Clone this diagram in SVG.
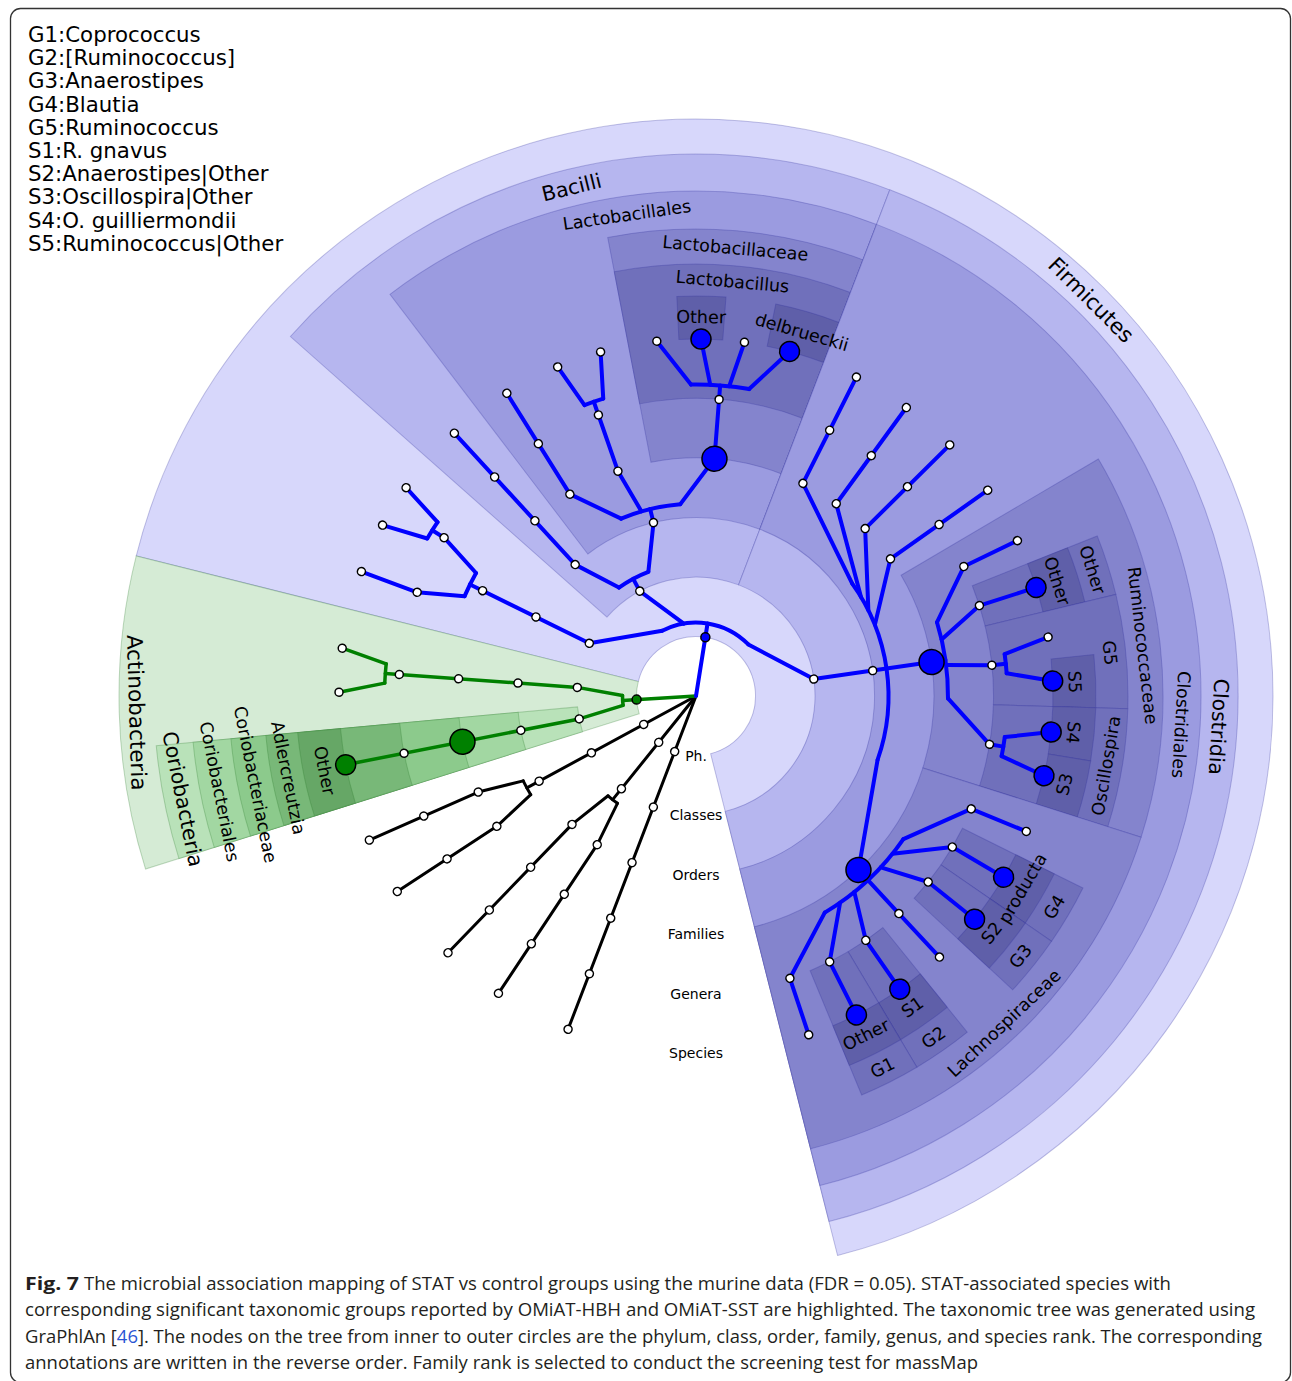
<svg xmlns="http://www.w3.org/2000/svg" width="1292" height="1381" viewBox="0 0 1292 1381">
<style>
.wb1{fill:#d7d7fb}.wb2{fill:#b6b6ef}.wb3{fill:#9b9be0}.wb4{fill:#8484cd}.wb5{fill:#7070bb}.wb6{fill:#5f5fa9}
.wg1{fill:#d5ebd5}.wg2{fill:#b9e2b9}.wg3{fill:#a2d7a2}.wg4{fill:#8cca8c}.wg5{fill:#78b878}.wg6{fill:#66a766}
.w{stroke:#30309a;stroke-opacity:.28;stroke-width:1}
.wg{stroke:#2a7a2a;stroke-opacity:.28;stroke-width:1}
.eb{fill:none;stroke:#0000ff;stroke-width:4;stroke-linecap:round;stroke-linejoin:round}
.eg{fill:none;stroke:#008000;stroke-width:3.5;stroke-linecap:round;stroke-linejoin:round}
.ek{fill:none;stroke:#000;stroke-width:3;stroke-linecap:round;stroke-linejoin:round}
.n{fill:#fff;stroke:#000;stroke-width:1.5}
.nb{fill:#0000ff;stroke:#000;stroke-width:1.5}
.ng{fill:#008000;stroke:#000;stroke-width:1.5}
.t{font-family:"DejaVu Sans",sans-serif;fill:#000;text-anchor:middle;dominant-baseline:central}
.t1{font-size:21.5px}.t2{font-size:20.5px}.t3{font-size:17.5px}.t4{font-size:14px}
.leg{font-family:"DejaVu Sans",sans-serif;font-size:21.3px;fill:#000}
.cap{font-family:"Open Sans","Noto Sans",sans-serif;font-size:18px;fill:#231f20}
</style>
<rect x="10.5" y="8.5" width="1280" height="1374" rx="10" fill="none" stroke="#333" stroke-width="1.3"/>
<g id="wedges" transform="translate(696,696)">
<path id="w-Firmicutes" class="wb1 w" transform="rotate(194.05)" d="M59.5,0L577,0A577,577 0 1,1 -273.1,-508.3L-28.16,-52.41A59.5,59.5 0 1,0 59.5,0Z"/>
<path id="w-Actinobacteria" class="wg1 wg" transform="rotate(162.55)" d="M59.5,0L577,0A577,577 0 0,1 492,301.5L50.73,31.09A59.5,59.5 0 0,0 59.5,0Z"/>
<path id="w-Coriobacteria" class="wg2 wg" transform="rotate(162.55)" d="M119,0L542,0A542,542 0 0,1 529.8,114.5L116.3,25.15A119,119 0 0,0 119,0Z"/>
<path id="w-Coriobacteriales" class="wg3 wg" transform="rotate(162.55)" d="M178.5,0L505,0A505,505 0 0,1 493.6,106.7L174.5,37.72A178.5,178.5 0 0,0 178.5,0Z"/>
<path id="w-Coriobacteriaceae" class="wg4 wg" transform="rotate(162.55)" d="M238,0L467,0A467,467 0 0,1 456.5,98.69L232.6,50.29A238,238 0 0,0 238,0Z"/>
<path id="w-Adlercreutzia" class="wg5 wg" transform="rotate(162.55)" d="M297.5,0L432,0A432,432 0 0,1 422.2,91.29L290.8,62.87A297.5,297.5 0 0,0 297.5,0Z"/>
<path id="w-Adler-Other" class="wg6 wg" transform="rotate(162.55)" d="M357,0L400,0A400,400 0 0,1 391,84.53L348.9,75.44A357,357 0 0,0 357,0Z"/>
<path id="w-Bacilli" class="wb2 w" transform="rotate(221.55)" d="M119,0L542,0A542,542 0 0,1 190.7,507.3L41.87,111.39A119,119 0 0,0 119,0Z"/>
<path id="w-Lactobacillales" class="wb3 w" transform="rotate(232.7)" d="M178.5,0L505,0A505,505 0 0,1 265.7,429.4L93.93,151.79A178.5,178.5 0 0,0 178.5,0Z"/>
<path id="w-Lactobacillaceae" class="wb4 w" transform="rotate(259.1)" d="M238,0L467,0A467,467 0 0,1 396.7,246.4L202.2,125.6A238,238 0 0,0 238,0Z"/>
<path id="w-Lactobacillus" class="wb5 w" transform="rotate(259.1)" d="M297.5,0L432,0A432,432 0 0,1 366.95,227.97L252.7,157A297.5,297.5 0 0,0 297.5,0Z"/>
<path id="w-Lb-Other" class="wb6 w" transform="rotate(267.25)" d="M357,0L400,0A400,400 0 0,1 397,49.1L354.3,43.82A357,357 0 0,0 357,0Z"/>
<path id="w-delbrueckii" class="wb6 w" transform="rotate(281.5)" d="M357,0L400,0A400,400 0 0,1 394.6,65.68L352.2,58.62A357,357 0 0,0 357,0Z"/>
<path id="w-Clostridia" class="wb2 w" transform="rotate(290.95)" d="M119,0L542,0A542,542 0 0,1 -443.2,312.1L-97.3,68.52A119,119 0 0,0 119,0Z"/>
<path id="w-Clostridiales" class="wb3 w" transform="rotate(290.95)" d="M178.5,0L505,0A505,505 0 0,1 -412.9,290.8L-145.95,102.8A178.5,178.5 0 0,0 178.5,0Z"/>
<path id="w-Ruminococcaceae" class="wb4 w" transform="rotate(329.5)" d="M238,0L467,0A467,467 0 0,1 311.9,347.6L158.9,177.1A238,238 0 0,0 238,0Z"/>
<path id="w-Rum-Other-g" class="wb5 w" transform="rotate(338.25)" d="M297.5,0L432,0A432,432 0 0,1 427.6,61.24L294.5,42.17A297.5,297.5 0 0,0 297.5,0Z"/>
<path id="w-Rum-Other-s" class="wb6 w" transform="rotate(338.25)" d="M357,0L400,0A400,400 0 0,1 396,56.7L353.4,50.6A357,357 0 0,0 357,0Z"/>
<path id="w-G5" class="wb5 w" transform="rotate(346.4)" d="M297.5,0L432,0A432,432 0 0,1 416.7,114L287,78.5A297.5,297.5 0 0,0 297.5,0Z"/>
<path id="w-S5" class="wb6 w" transform="rotate(354.05)" d="M357,0L400,0A400,400 0 0,1 396.4,53.25L353.8,47.52A357,357 0 0,0 357,0Z"/>
<path id="w-Oscillospira" class="wb5 w" transform="rotate(1.7)" d="M297.5,0L432,0A432,432 0 0,1 415.5,118.35L286.1,81.5A297.5,297.5 0 0,0 297.5,0Z"/>
<path id="w-S4" class="wb6 w" transform="rotate(1.7)" d="M357,0L400,0A400,400 0 0,1 396.4,53.25L353.8,47.52A357,357 0 0,0 357,0Z"/>
<path id="w-S3" class="wb6 w" transform="rotate(9.35)" d="M357,0L400,0A400,400 0 0,1 395.9,57.4L353.3,51.23A357,357 0 0,0 357,0Z"/>
<path id="w-Lachnospiraceae" class="wb4 w" transform="rotate(17.6)" d="M238,0L467,0A467,467 0 0,1 246.1,396.9L125.4,202.3A238,238 0 0,0 238,0Z"/>
<path id="w-G4" class="wb5 w" transform="rotate(26.4)" d="M297.5,0L432,0A432,432 0 0,1 427.6,61.62L294.5,42.43A297.5,297.5 0 0,0 297.5,0Z"/>
<path id="w-producta" class="wb6 w" transform="rotate(26.4)" d="M357,0L400,0A400,400 0 0,1 395.9,57.05L353.4,50.92A357,357 0 0,0 357,0Z"/>
<path id="w-G3" class="wb5 w" transform="rotate(34.6)" d="M297.5,0L432,0A432,432 0 0,1 427.5,61.99L294.4,42.69A297.5,297.5 0 0,0 297.5,0Z"/>
<path id="w-S2" class="wb6 w" transform="rotate(34.6)" d="M357,0L400,0A400,400 0 0,1 395.9,57.4L353.3,51.23A357,357 0 0,0 357,0Z"/>
<path id="w-G2" class="wb5 w" transform="rotate(51.1)" d="M297.5,0L432,0A432,432 0 0,1 427.6,61.24L294.5,42.17A297.5,297.5 0 0,0 297.5,0Z"/>
<path id="w-S1" class="wb6 w" transform="rotate(51.1)" d="M357,0L400,0A400,400 0 0,1 396,56.7L353.4,50.6A357,357 0 0,0 357,0Z"/>
<path id="w-G1" class="wb5 w" transform="rotate(59.25)" d="M297.5,0L432,0A432,432 0 0,1 427.6,61.62L294.5,42.43A297.5,297.5 0 0,0 297.5,0Z"/>
<path id="w-G1-Other" class="wb6 w" transform="rotate(59.25)" d="M357,0L400,0A400,400 0 0,1 395.9,57.05L353.4,50.92A357,357 0 0,0 357,0Z"/>
</g>
<g id="connectors" transform="translate(696,696)">
<g class="ek">
<line x2="357" transform="rotate(111)"/>
<line x2="133" transform="rotate(128.8)"/>
<path d="M133,0A133,133 0 0,1 132.45,12.05" transform="rotate(126.2)"/>
<path d="M133,0L178.3,8.1" transform="rotate(131.4)"/>
<path d="M133,0L178.3,-8.1" transform="rotate(126.2)"/>
<line x1="178.5" x2="357" transform="rotate(134)"/>
<line x1="178.5" x2="357" transform="rotate(123.6)"/>
<line x2="192.5" transform="rotate(151.5)"/>
<path d="M192.5,0A192.5,192.5 0 0,1 191.85,15.77" transform="rotate(149.15)"/>
<path d="M192.5,0L237.8,9.76" transform="rotate(153.85)"/>
<path d="M192.5,0L237.8,-9.76" transform="rotate(149.15)"/>
<line x1="238" x2="357" transform="rotate(156.2)"/>
<line x1="238" x2="357" transform="rotate(146.8)"/>
</g>
<g class="eg">
<line x2="73.5" transform="rotate(176.525)"/>
<path d="M73.5,0A73.5,73.5 0 0,1 72.85,9.76" transform="rotate(172.71)"/>
<path d="M73.5,0L118.74,7.91" transform="rotate(180.34)"/>
<path d="M73.5,0L118.74,-7.91" transform="rotate(172.71)"/>
<line x1="119" x2="311.5" transform="rotate(184.15)"/>
<path d="M311.5,0A311.5,311.5 0 0,1 310.9,19.29" transform="rotate(182.375)"/>
<path d="M311.5,0L356.83,11.06" transform="rotate(185.925)"/>
<path d="M311.5,0L356.83,-11.06" transform="rotate(182.375)"/>
<line x1="119" x2="357" transform="rotate(168.9)"/>
</g>
<g class="eb">
<line x2="73.5" transform="rotate(279.05)"/>
<path d="M73.5,0A73.5,73.5 0 0,1 21.76,70.2" transform="rotate(242.66)"/>
<path d="M73.5,0L95.8,-70.59" transform="rotate(242.66)"/>
<path d="M73.5,0L112.77,-38" transform="rotate(260.43)"/>
<path d="M73.5,0L95.8,70.59" transform="rotate(315.44)"/>
<line x1="119" x2="252" transform="rotate(206.275)"/>
<path d="M252,0A252,252 0 0,1 250.68,25.79" transform="rotate(203.34)"/>
<path d="M252,0L297.11,15.25" transform="rotate(209.21)"/>
<path d="M252,0L297.11,-15.25" transform="rotate(203.34)"/>
<line x1="297.5" x2="357" transform="rotate(200.4)"/>
<line x1="297.5" x2="311.5" transform="rotate(212.15)"/>
<path d="M311.5,0A311.5,311.5 0 0,1 310.9,19.29" transform="rotate(210.375)"/>
<path d="M311.5,0L356.83,11.06" transform="rotate(213.925)"/>
<path d="M311.5,0L356.83,-11.06" transform="rotate(210.375)"/>
<line x1="119" x2="133" transform="rotate(241.81)"/>
<path d="M133,0A133,133 0 0,1 128.82,33.1" transform="rotate(234.6)"/>
<path d="M133,0L177.09,22.4" transform="rotate(249.02)"/>
<path d="M133,0L177.09,-22.39" transform="rotate(234.6)"/>
<line x1="178.5" x2="357" transform="rotate(227.4)"/>
<line x1="178.5" x2="192.5" transform="rotate(256.225)"/>
<path d="M192.5,0A192.5,192.5 0 0,1 182.84,60.2" transform="rotate(247.11)"/>
<path d="M192.5,0L235,-37.69" transform="rotate(247.11)"/>
<path d="M192.5,0L237.74,-11.16" transform="rotate(253.54)"/>
<path d="M192.5,0L235,37.69" transform="rotate(265.34)"/>
<line x1="238" x2="357" transform="rotate(238)"/>
<line x1="238" x2="311.5" transform="rotate(250.85)"/>
<path d="M311.5,0A311.5,311.5 0 0,1 310.87,19.83" transform="rotate(249.025)"/>
<path d="M311.5,0L356.82,11.37" transform="rotate(252.675)"/>
<path d="M311.5,0L356.82,-11.37" transform="rotate(249.025)"/>
<line x1="238" x2="311.5" transform="rotate(274.45)"/>
<path d="M311.5,0A311.5,311.5 0 0,1 306.03,58.1" transform="rotate(269.075)"/>
<path d="M311.5,0L355.43,-33.44" transform="rotate(269.075)"/>
<path d="M311.5,0L356.82,-11.37" transform="rotate(272.625)"/>
<path d="M311.5,0L356.85,10.43" transform="rotate(276.125)"/>
<path d="M311.5,0L355.43,33.44" transform="rotate(279.825)"/>
<line x1="119" x2="252" transform="rotate(351.8)"/>
<path d="M192.5,0A192.5,192.5 0 0,1 110.05,157.95" transform="rotate(324.26)"/>
<path d="M192.5,0L211,-110.1" transform="rotate(324.26)"/>
<path d="M192.5,0L219.3,-92.48" transform="rotate(328.96)"/>
<path d="M192.5,0L226,-74.58" transform="rotate(333.56)"/>
<path d="M192.5,0L231.4,-55.61" transform="rotate(338.31)"/>
<path d="M192.5,0L211,110.1" transform="rotate(19.39)"/>
<line x1="238" x2="357" transform="rotate(296.7)"/>
<line x1="238" x2="357" transform="rotate(306.1)"/>
<line x1="238" x2="357" transform="rotate(315.3)"/>
<line x1="238" x2="357" transform="rotate(324.8)"/>
<path d="M252,0A252,252 0 0,1 240.24,76.09" transform="rotate(342.99)"/>
<path d="M252,0L294,-45.45" transform="rotate(342.99)"/>
<path d="M252,0L296.5,-24.57" transform="rotate(347.04)"/>
<path d="M252,0L297.44,5.91" transform="rotate(352.91)"/>
<path d="M252,0L294,45.45" transform="rotate(0.56)"/>
<line x1="297.5" x2="357" transform="rotate(334.2)"/>
<line x1="297.5" x2="357" transform="rotate(342.3)"/>
<line x1="297.5" x2="311.5" transform="rotate(354.05)"/>
<path d="M311.5,0A311.5,311.5 0 0,1 310.9,19.29" transform="rotate(352.275)"/>
<path d="M311.5,0L356.83,-11.06" transform="rotate(352.275)"/>
<path d="M311.5,0L356.83,11.06" transform="rotate(355.825)"/>
<line x1="297.5" x2="311.5" transform="rotate(9.35)"/>
<path d="M311.5,0A311.5,311.5 0 0,1 310.9,19.29" transform="rotate(7.575)"/>
<path d="M311.5,0L356.83,-11.06" transform="rotate(7.575)"/>
<path d="M311.5,0L356.83,11.06" transform="rotate(11.125)"/>
<line x1="238" x2="252" transform="rotate(46.95)"/>
<path d="M252,0A252,252 0 0,1 229.04,105.1" transform="rotate(34.625)"/>
<path d="M252,0L290.64,-63.5" transform="rotate(34.625)"/>
<path d="M252,0L294.44,-42.56" transform="rotate(38.725)"/>
<path d="M252,0L296.73,-21.4" transform="rotate(42.825)"/>
<path d="M252,0L297.5,0.13" transform="rotate(46.975)"/>
<path d="M252,0L296.73,21.4" transform="rotate(51.075)"/>
<path d="M252,0L294.48,42.3" transform="rotate(55.125)"/>
<path d="M252,0L290.64,63.5" transform="rotate(59.275)"/>
<line x1="297.5" x2="357" transform="rotate(22.3)"/>
<line x1="297.5" x2="357" transform="rotate(30.5)"/>
<line x1="297.5" x2="357" transform="rotate(38.7)"/>
<line x1="297.5" x2="357" transform="rotate(47)"/>
<line x1="297.5" x2="357" transform="rotate(55.2)"/>
<line x1="297.5" x2="357" transform="rotate(63.3)"/>
<line x1="297.5" x2="357" transform="rotate(71.6)"/>
</g>
</g>
<g id="nodes" transform="translate(696,696)">
<g id="k3-p"><circle class="n" cx="59.5" r="4" transform="rotate(111)"/></g>
<g id="k3-c"><circle class="n" cx="119" r="4" transform="rotate(111)"/></g>
<g id="k3-o"><circle class="n" cx="178.5" r="4" transform="rotate(111)"/></g>
<g id="k3-f"><circle class="n" cx="238" r="4" transform="rotate(111)"/></g>
<g id="k3-g"><circle class="n" cx="297.5" r="4" transform="rotate(111)"/></g>
<g id="k3-s"><circle class="n" cx="357" r="4" transform="rotate(111)"/></g>
<g id="k2-p"><circle class="n" cx="59.5" r="4" transform="rotate(128.8)"/></g>
<g id="k2-c"><circle class="n" cx="119" r="4" transform="rotate(128.8)"/></g>
<g id="k2a-o"><circle class="n" cx="178.5" r="4" transform="rotate(134)"/></g>
<g id="k2a-f"><circle class="n" cx="238" r="4" transform="rotate(134)"/></g>
<g id="k2a-g"><circle class="n" cx="297.5" r="4" transform="rotate(134)"/></g>
<g id="k2a-s"><circle class="n" cx="357" r="4" transform="rotate(134)"/></g>
<g id="k2b-o"><circle class="n" cx="178.5" r="4" transform="rotate(123.6)"/></g>
<g id="k2b-f"><circle class="n" cx="238" r="4" transform="rotate(123.6)"/></g>
<g id="k2b-g"><circle class="n" cx="297.5" r="4" transform="rotate(123.6)"/></g>
<g id="k2b-s"><circle class="n" cx="357" r="4" transform="rotate(123.6)"/></g>
<g id="k1-p"><circle class="n" cx="59.5" r="4" transform="rotate(151.5)"/></g>
<g id="k1-c"><circle class="n" cx="119" r="4" transform="rotate(151.5)"/></g>
<g id="k1-o"><circle class="n" cx="178.5" r="4" transform="rotate(151.5)"/></g>
<g id="k1a-f"><circle class="n" cx="238" r="4" transform="rotate(156.2)"/></g>
<g id="k1a-g"><circle class="n" cx="297.5" r="4" transform="rotate(156.2)"/></g>
<g id="k1a-s"><circle class="n" cx="357" r="4" transform="rotate(156.2)"/></g>
<g id="k1b-f"><circle class="n" cx="238" r="4" transform="rotate(146.8)"/></g>
<g id="k1b-g"><circle class="n" cx="297.5" r="4" transform="rotate(146.8)"/></g>
<g id="k1b-s"><circle class="n" cx="357" r="4" transform="rotate(146.8)"/></g>
<g id="Actinobacteria-node"><circle class="ng" cx="59.5" r="4.5" transform="rotate(176.525)"/></g>
<g id="gu-c"><circle class="n" cx="119" r="4" transform="rotate(184.15)"/></g>
<g id="gu-o"><circle class="n" cx="178.5" r="4" transform="rotate(184.15)"/></g>
<g id="gu-f"><circle class="n" cx="238" r="4" transform="rotate(184.15)"/></g>
<g id="gu-g"><circle class="n" cx="297.5" r="4" transform="rotate(184.15)"/></g>
<g id="gu-s1"><circle class="n" cx="357" r="4" transform="rotate(187.7)"/></g>
<g id="gu-s2"><circle class="n" cx="357" r="4" transform="rotate(180.6)"/></g>
<g id="Coriobacteria-node"><circle class="n" cx="119" r="4" transform="rotate(168.9)"/></g>
<g id="Coriobacteriales-node"><circle class="n" cx="178.5" r="4" transform="rotate(168.9)"/></g>
<g id="Coriobacteriaceae-node"><circle class="ng" cx="238" r="12.5" transform="rotate(168.9)"/></g>
<g id="Adlercreutzia-node"><circle class="n" cx="297.5" r="4" transform="rotate(168.9)"/></g>
<g id="Adlercreutzia-Other-node"><circle class="ng" cx="357" r="10" transform="rotate(168.9)"/></g>
<g id="Firmicutes-node"><circle class="nb" cx="59.5" r="4.5" transform="rotate(279.05)"/></g>
<g id="e-c"><circle class="n" cx="119" r="4" transform="rotate(206.275)"/></g>
<g id="e-o"><circle class="n" cx="178.5" r="4" transform="rotate(206.275)"/></g>
<g id="e-f"><circle class="n" cx="238" r="4" transform="rotate(206.275)"/></g>
<g id="e-g1"><circle class="n" cx="297.5" r="4" transform="rotate(212.15)"/></g>
<g id="e-g2"><circle class="n" cx="297.5" r="4" transform="rotate(200.4)"/></g>
<g id="e-s3"><circle class="n" cx="357" r="4" transform="rotate(200.4)"/></g>
<g id="e-s1"><circle class="n" cx="357" r="4" transform="rotate(215.7)"/></g>
<g id="e-s2"><circle class="n" cx="357" r="4" transform="rotate(208.6)"/></g>
<g id="Bacilli-node"><circle class="n" cx="119" r="4" transform="rotate(241.81)"/></g>
<g id="b2-o"><circle class="n" cx="178.5" r="4" transform="rotate(227.4)"/></g>
<g id="b2-f"><circle class="n" cx="238" r="4" transform="rotate(227.4)"/></g>
<g id="b2-g"><circle class="n" cx="297.5" r="4" transform="rotate(227.4)"/></g>
<g id="b2-s"><circle class="n" cx="357" r="4" transform="rotate(227.4)"/></g>
<g id="Lactobacillales-node"><circle class="n" cx="178.5" r="4" transform="rotate(256.225)"/></g>
<g id="b3-f"><circle class="n" cx="238" r="4" transform="rotate(238)"/></g>
<g id="b3-g"><circle class="n" cx="297.5" r="4" transform="rotate(238)"/></g>
<g id="b3-s"><circle class="n" cx="357" r="4" transform="rotate(238)"/></g>
<g id="b4-f"><circle class="n" cx="238" r="4" transform="rotate(250.85)"/></g>
<g id="b4-g"><circle class="n" cx="297.5" r="4" transform="rotate(250.85)"/></g>
<g id="b4-s1"><circle class="n" cx="357" r="4" transform="rotate(247.2)"/></g>
<g id="b4-s2"><circle class="n" cx="357" r="4" transform="rotate(254.5)"/></g>
<g id="Lactobacillaceae-node"><circle class="nb" cx="238" r="12.5" transform="rotate(274.45)"/></g>
<g id="Lactobacillus-node"><circle class="n" cx="297.5" r="4" transform="rotate(274.45)"/></g>
<g id="lb-s1"><circle class="n" cx="357" r="4" transform="rotate(263.7)"/></g>
<g id="Lactobacillus-Other-node"><circle class="nb" cx="357" r="10" transform="rotate(270.8)"/></g>
<g id="lb-s3"><circle class="n" cx="357" r="4" transform="rotate(277.8)"/></g>
<g id="delbrueckii-node"><circle class="nb" cx="357" r="10" transform="rotate(285.2)"/></g>
<g id="Clostridia-node"><circle class="n" cx="119" r="4" transform="rotate(351.825)"/></g>
<g id="Clostridiales-node"><circle class="n" cx="178.5" r="4" transform="rotate(351.825)"/></g>
<g id="cf1-f"><circle class="n" cx="238" r="4" transform="rotate(296.7)"/></g>
<g id="cf1-g"><circle class="n" cx="297.5" r="4" transform="rotate(296.7)"/></g>
<g id="cf1-s"><circle class="n" cx="357" r="4" transform="rotate(296.7)"/></g>
<g id="cf2-f"><circle class="n" cx="238" r="4" transform="rotate(306.1)"/></g>
<g id="cf2-g"><circle class="n" cx="297.5" r="4" transform="rotate(306.1)"/></g>
<g id="cf2-s"><circle class="n" cx="357" r="4" transform="rotate(306.1)"/></g>
<g id="cf3-f"><circle class="n" cx="238" r="4" transform="rotate(315.3)"/></g>
<g id="cf3-g"><circle class="n" cx="297.5" r="4" transform="rotate(315.3)"/></g>
<g id="cf3-s"><circle class="n" cx="357" r="4" transform="rotate(315.3)"/></g>
<g id="cf4-f"><circle class="n" cx="238" r="4" transform="rotate(324.8)"/></g>
<g id="cf4-g"><circle class="n" cx="297.5" r="4" transform="rotate(324.8)"/></g>
<g id="cf4-s"><circle class="n" cx="357" r="4" transform="rotate(324.8)"/></g>
<g id="Ruminococcaceae-node"><circle class="nb" cx="238" r="12.5" transform="rotate(351.8)"/></g>
<g id="r1-g"><circle class="n" cx="297.5" r="4" transform="rotate(334.2)"/></g>
<g id="r1-s"><circle class="n" cx="357" r="4" transform="rotate(334.2)"/></g>
<g id="Rum-Other-g-node"><circle class="n" cx="297.5" r="4" transform="rotate(342.3)"/></g>
<g id="Rum-Other-s-node"><circle class="nb" cx="357" r="10" transform="rotate(342.3)"/></g>
<g id="G5-node"><circle class="n" cx="297.5" r="4" transform="rotate(354.05)"/></g>
<g id="g5-s1"><circle class="n" cx="357" r="4" transform="rotate(350.5)"/></g>
<g id="S5-node"><circle class="nb" cx="357" r="10" transform="rotate(357.6)"/></g>
<g id="Oscillospira-node"><circle class="n" cx="297.5" r="4" transform="rotate(9.35)"/></g>
<g id="S4-node"><circle class="nb" cx="357" r="10" transform="rotate(5.8)"/></g>
<g id="S3-node"><circle class="nb" cx="357" r="10" transform="rotate(12.9)"/></g>
<g id="Lachnospiraceae-node"><circle class="nb" cx="238" r="12.5" transform="rotate(46.95)"/></g>
<g id="l1-g"><circle class="n" cx="297.5" r="4" transform="rotate(22.3)"/></g>
<g id="l1-s"><circle class="n" cx="357" r="4" transform="rotate(22.3)"/></g>
<g id="G4-node"><circle class="n" cx="297.5" r="4" transform="rotate(30.5)"/></g>
<g id="producta-node"><circle class="nb" cx="357" r="10" transform="rotate(30.5)"/></g>
<g id="G3-node"><circle class="n" cx="297.5" r="4" transform="rotate(38.7)"/></g>
<g id="S2-node"><circle class="nb" cx="357" r="10" transform="rotate(38.7)"/></g>
<g id="l4-g"><circle class="n" cx="297.5" r="4" transform="rotate(47)"/></g>
<g id="l4-s"><circle class="n" cx="357" r="4" transform="rotate(47)"/></g>
<g id="G2-node"><circle class="n" cx="297.5" r="4" transform="rotate(55.2)"/></g>
<g id="S1-node"><circle class="nb" cx="357" r="10" transform="rotate(55.2)"/></g>
<g id="G1-node"><circle class="n" cx="297.5" r="4" transform="rotate(63.3)"/></g>
<g id="G1-Other-node"><circle class="nb" cx="357" r="10" transform="rotate(63.3)"/></g>
<g id="l7-g"><circle class="n" cx="297.5" r="4" transform="rotate(71.6)"/></g>
<g id="l7-s"><circle class="n" cx="357" r="4" transform="rotate(71.6)"/></g>
</g>
<g id="labels" transform="translate(696,696)">
<text class="t t1" transform="rotate(314.925) translate(559.5,0) rotate(90)">Firmicutes</text>
<text class="t t1" transform="rotate(178.3) translate(559.5,0) rotate(-90)">Actinobacteria</text>
<text class="t t2" transform="rotate(256.25) translate(523.5,0) rotate(90)">Bacilli</text>
<text class="t t2" transform="rotate(3.375) translate(523.5,0) rotate(90)">Clostridia</text>
<text class="t t2" transform="rotate(168.65) translate(523.5,0) rotate(-90)">Coriobacteria</text>
<text class="t t3" transform="rotate(261.825) translate(486,0) rotate(90)">Lactobacillales</text>
<text class="t t3" transform="rotate(3.375) translate(486,0) rotate(90)">Clostridiales</text>
<text class="t t3" transform="rotate(168.65) translate(486,0) rotate(-90)">Coriobacteriales</text>
<text class="t t3" transform="rotate(275.025) translate(449.5,0) rotate(90)">Lactobacillaceae</text>
<text class="t t3" transform="rotate(353.55) translate(449.5,0) rotate(90)">Ruminococcaceae</text>
<text class="t t3" transform="rotate(46.7) translate(449.5,0) rotate(-90)">Lachnospiraceae</text>
<text class="t t3" transform="rotate(168.65) translate(449.5,0) rotate(-90)">Coriobacteriaceae</text>
<text class="t t3" transform="rotate(275.025) translate(416,0) rotate(90)">Lactobacillus</text>
<text class="t t3" transform="rotate(168.65) translate(416,0) rotate(-90)">Adlercreutzia</text>
<text class="t t3" transform="rotate(342.325) translate(416,0) rotate(90)">Other</text>
<text class="t t3" transform="rotate(354.05) translate(416,0) rotate(90)">G5</text>
<text class="t t3" transform="rotate(9.65) translate(416,0) rotate(-90)">Oscillospira</text>
<text class="t t3" transform="rotate(30.5) translate(416,0) rotate(-90)">G4</text>
<text class="t t3" transform="rotate(38.725) translate(416,0) rotate(-90)">G3</text>
<text class="t t3" transform="rotate(55.175) translate(416,0) rotate(-90)">G2</text>
<text class="t t3" transform="rotate(63.35) translate(416,0) rotate(-90)">G1</text>
<text class="t t3" transform="rotate(270.775) translate(379,0) rotate(90)">Other</text>
<text class="t t3" transform="rotate(286.225) translate(379,0) rotate(90)">delbrueckii</text>
<text class="t t3" transform="rotate(342.325) translate(379,0) rotate(90)">Other</text>
<text class="t t3" transform="rotate(357.875) translate(379,0) rotate(90)">S5</text>
<text class="t t3" transform="rotate(5.525) translate(379,0) rotate(90)">S4</text>
<text class="t t3" transform="rotate(13.475) translate(379,0) rotate(-90)">S3</text>
<text class="t t3" transform="rotate(30.5) translate(379,0) rotate(-90)">producta</text>
<text class="t t3" transform="rotate(38.725) translate(379,0) rotate(-90)">S2</text>
<text class="t t3" transform="rotate(55.175) translate(379,0) rotate(-90)">S1</text>
<text class="t t3" transform="rotate(63.35) translate(379,0) rotate(-90)">Other</text>
<text class="t t3" transform="rotate(168.65) translate(379,0) rotate(-90)">Other</text>
<text class="t t4" x="0" y="59.5">Ph.</text>
<text class="t t4" x="0" y="119">Classes</text>
<text class="t t4" x="0" y="178.5">Orders</text>
<text class="t t4" x="0" y="238">Families</text>
<text class="t t4" x="0" y="297.5">Genera</text>
<text class="t t4" x="0" y="357">Species</text>
</g>
<g id="legend">
<text class="leg" x="28" y="42">G1:Coprococcus</text>
<text class="leg" x="28" y="65.2">G2:[Ruminococcus]</text>
<text class="leg" x="28" y="88.4">G3:Anaerostipes</text>
<text class="leg" x="28" y="111.6">G4:Blautia</text>
<text class="leg" x="28" y="134.8">G5:Ruminococcus</text>
<text class="leg" x="28" y="158">S1:R. gnavus</text>
<text class="leg" x="28" y="181.2">S2:Anaerostipes|Other</text>
<text class="leg" x="28" y="204.4">S3:Oscillospira|Other</text>
<text class="leg" x="28" y="227.6">S4:O. guilliermondii</text>
<text class="leg" x="28" y="250.8">S5:Ruminococcus|Other</text>
</g>
<g id="caption">
<text class="cap" x="25" y="1290" font-weight="bold" textLength="54" lengthAdjust="spacingAndGlyphs">Fig. 7</text>
<text class="cap" x="84" y="1290" textLength="1087" lengthAdjust="spacingAndGlyphs">The microbial association mapping of STAT vs control groups using the murine data (FDR = 0.05). STAT-associated species with</text>
<text class="cap" x="25" y="1316" textLength="1230" lengthAdjust="spacingAndGlyphs">corresponding significant taxonomic groups reported by OMiAT-HBH and OMiAT-SST are highlighted. The taxonomic tree was generated using</text>
<text class="cap" x="25" y="1343" textLength="1237" lengthAdjust="spacingAndGlyphs">GraPhlAn [<tspan fill="#2a55d4">46</tspan>]. The nodes on the tree from inner to outer circles are the phylum, class, order, family, genus, and species rank. The corresponding</text>
<text class="cap" x="25" y="1369" textLength="953" lengthAdjust="spacingAndGlyphs">annotations are written in the reverse order. Family rank is selected to conduct the screening test for massMap</text>
</g>
</svg>
